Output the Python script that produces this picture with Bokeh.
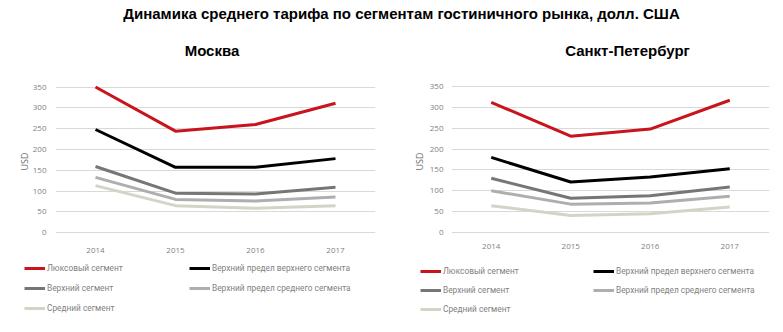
from bokeh.plotting import figure
from bokeh.models import Range1d, FactorRange, Legend, LegendItem, Label, FixedTicker
from bokeh.layouts import column, row
from bokeh.embed import file_html
from bokeh.resources import INLINE

# ---------------- data ----------------
years = ["2014", "2015", "2016", "2017"]
series_names = [
    "Люксовый сегмент",
    "Верхний предел верхнего сегмента",
    "Верхний сегмент",
    "Верхний предел среднего сегмента",
    "Средний сегмент",
]
moscow_lux = [350, 244, 260, 311]
moscow_upper_limit = [248, 157, 157, 178]
moscow_upper = [159, 95, 93, 109]
moscow_mid_limit = [133, 80, 76, 86]
moscow_mid = [113, 65, 59, 65]

spb_lux = [312, 231, 248, 317]
spb_upper_limit = [180, 121, 133, 153]
spb_upper = [130, 82, 88, 109]
spb_mid_limit = [100, 68, 71, 87]
spb_mid = [64, 41, 45, 61]

y_ticks = [0, 50, 100, 150, 200, 250, 300, 350]

main_title = "Динамика среднего тарифа по сегментам гостиничного рынка, долл. США"
city_titles = ["Москва", "Санкт-Петербург"]

# ---------------- styles ----------------
colors = ["#C8141C", "#000000", "#767676", "#AEAEAE", "#D4D4C6"]
TICK_FONT = "Open Sans"
LEG_FONT = "Roboto"
TITLE_H = 62
CHART_H = 200
LEG_H = 70


def make_city(series, width, bl, br, bt, fh, y0, y1, ylab_standoff,
              tick_standoff, axlab_standoff):
    p = figure(width=width, height=CHART_H, output_backend="svg", toolbar_location=None,
               x_range=FactorRange(factors=years, range_padding=0),
               y_range=Range1d(y0, y1),
               min_border_left=bl, min_border_right=br, min_border_top=bt,
               min_border_bottom=CHART_H - bt - fh)
    p.outline_line_color = None
    p.background_fill_color = None
    p.border_fill_color = None

    p.xgrid.grid_line_color = None
    p.ygrid.grid_line_color = "#D9D9D9"
    p.ygrid.grid_line_width = 1
    p.yaxis.ticker = FixedTicker(ticks=y_ticks)

    for ax in (p.xaxis[0], p.yaxis[0]):
        ax.axis_line_color = None
        ax.major_tick_line_color = None
        ax.minor_tick_line_color = None
        ax.major_tick_out = 0
        ax.major_tick_in = 0
        ax.major_label_text_font = TICK_FONT
        ax.major_label_text_font_size = "8px"
        ax.major_label_text_color = "#7F7F7F"
    p.xaxis.major_label_standoff = tick_standoff
    p.yaxis.major_label_standoff = ylab_standoff
    p.yaxis.axis_label = "USD"
    p.yaxis.axis_label_text_font = TICK_FONT
    p.yaxis.axis_label_text_font_size = "9px"
    p.yaxis.axis_label_text_font_style = "normal"
    p.yaxis.axis_label_text_color = "#6E6E6E"
    p.yaxis.axis_label_standoff = axlab_standoff

    for vals, c in zip(series, colors):
        p.line(x=years, y=vals, line_color=c, line_width=3)
    return p


def make_legend_fig(series, width, item_h, gap, col1, col2):
    # legend-only panel: the series lines are drawn outside the visible y-range
    q = figure(width=width, height=LEG_H, output_backend="svg", toolbar_location=None,
               x_range=FactorRange(factors=years, range_padding=0),
               y_range=Range1d(1000, 1001), min_border=0,
               x_axis_type=None, y_axis_type=None)
    q.outline_line_color = None
    q.xgrid.grid_line_color = None
    q.ygrid.grid_line_color = None
    rs = [q.line(x=years, y=vals, line_color=c, line_width=3) for vals, c in zip(series, colors)]

    def mk(idx, loc):
        return Legend(
            items=[LegendItem(label=series_names[i], renderers=[rs[i]]) for i in idx],
            location=loc, orientation="vertical",
            glyph_width=21, glyph_height=item_h, label_height=item_h, spacing=gap,
            padding=0, margin=0, border_line_color=None, background_fill_alpha=0,
            label_text_font=LEG_FONT, label_text_font_size="8.3px",
            label_text_color="#7F7F7F", label_standoff=2,
        )
    q.add_layout(mk([0, 2, 4], col1))
    q.add_layout(mk([1, 3], col2))
    return q


moscow = [moscow_lux, moscow_upper_limit, moscow_upper, moscow_mid_limit, moscow_mid]
spb = [spb_lux, spb_upper_limit, spb_upper, spb_mid_limit, spb_mid]

left = make_city(moscow, width=390, bl=55, br=15, bt=19, fh=162, y0=-18.75, y1=360.9,
                 ylab_standoff=9, tick_standoff=7, axlab_standoff=-1)
right = make_city(spb, width=393, bl=61, br=14, bt=20, fh=158, y0=-19.18, y1=359.6,
                  ylab_standoff=8, tick_standoff=3, axlab_standoff=1)

leg_left = make_legend_fig(moscow, 390, 12, 8, (24, 18), (189, 38))
leg_right = make_legend_fig(spb, 393, 12, 7, (30, 17), (203, 36))

tfig = figure(width=783, height=TITLE_H, output_backend="svg", toolbar_location=None,
              x_range=Range1d(0, 783), y_range=Range1d(0, TITLE_H),
              min_border=0, x_axis_type=None, y_axis_type=None)
tfig.outline_line_color = None
tfig.xgrid.grid_line_color = None
tfig.ygrid.grid_line_color = None
title_style = dict(text_align="center", text_baseline="middle", text_font="Liberation Sans",
                   text_font_style="bold", text_font_size="15px", text_color="#000000")
tfig.add_layout(Label(x=401, y=TITLE_H - 13, text=main_title, **title_style))
tfig.add_layout(Label(x=211.5, y=TITLE_H - 50, text=city_titles[0], **title_style))
tfig.add_layout(Label(x=627, y=TITLE_H - 50, text=city_titles[1], **title_style))

layout = column(tfig, row(left, right), row(leg_left, leg_right))

with open("out.html", "w") as f:
    f.write(file_html(layout, INLINE))
